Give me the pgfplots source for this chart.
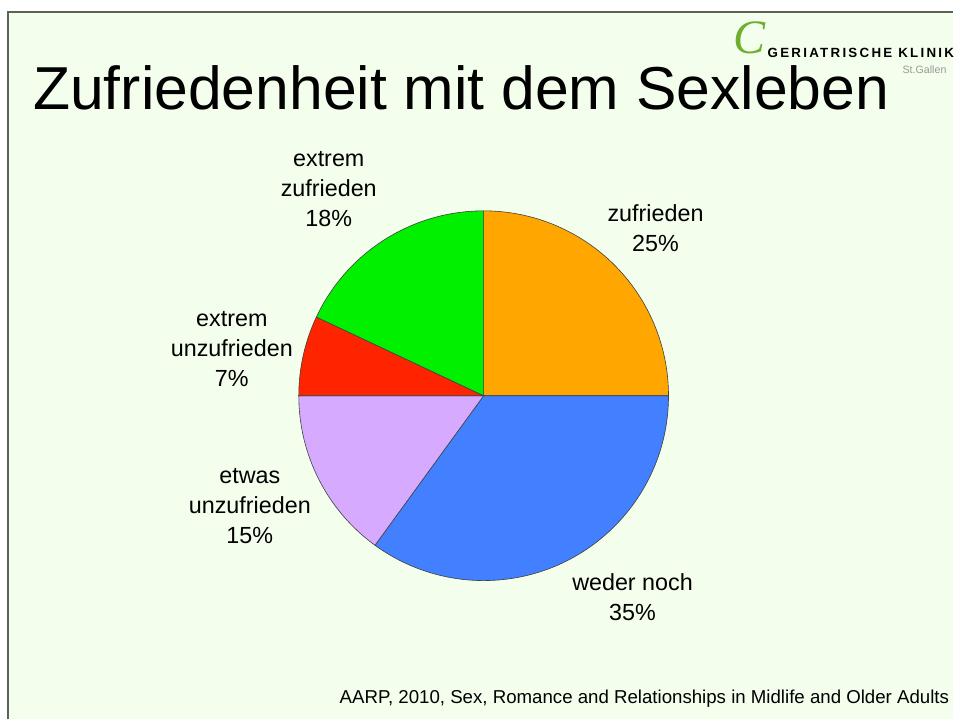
\documentclass[border=0pt]{standalone}
\usepackage{pgfplots}
\usepackage{pgfplotstable}
\usepackage{fontspec}
\setmainfont{Liberation Sans}
\newfontfamily\logoC{Liberation Serif}
\newfontfamily\logofont[LetterSpace=17]{Liberation Sans}
\pgfplotsset{compat=1.18}

\definecolor{bgcol}{RGB}{243,254,236}
\definecolor{framecol}{RGB}{90,100,85}
\definecolor{logogreen}{RGB}{110,175,45}
\definecolor{slice0}{RGB}{255,166,0}
\definecolor{slice1}{RGB}{66,128,255}
\definecolor{slice2}{RGB}{214,170,255}
\definecolor{slice3}{RGB}{255,36,0}
\definecolor{slice4}{RGB}{0,240,0}

% share in percent, label position (px from top left)
\pgfplotstableread[col sep=comma]{
name,pct,lx,ly
{zufrieden},25,656,228
{weder noch},35,633,598
{etwas\\unzufrieden},15,250,506
{extrem\\unzufrieden},7,232,349
{extrem\\zufrieden},18,329,189
}\piedata

\begin{document}
\begin{tikzpicture}
\begin{axis}[
    scale only axis,
    width=715.5pt, height=540pt,
    xmin=0, xmax=954, ymin=0, ymax=720,
    y dir=reverse,
    hide axis,
    clip=false,
]
% slide background and frame
\fill[white] (axis cs:0,0) rectangle (axis cs:954,720);
\fill[bgcol] (axis cs:8,12) rectangle (axis cs:954,720);
\draw[framecol, line width=0.9pt] (axis cs:8,720) -- (axis cs:8,12) -- (axis cs:954,12);

\pgfplotsextra{%
  \gdef\angA{90}%
  \pgfplotsforeachungrouped \i in {0,...,4}{%
    \pgfplotstablegetelem{\i}{pct}\of\piedata \let\pct\pgfplotsretval
    \pgfplotstablegetelem{\i}{name}\of\piedata \let\name\pgfplotsretval
    \pgfplotstablegetelem{\i}{lx}\of\piedata \let\lx\pgfplotsretval
    \pgfplotstablegetelem{\i}{ly}\of\piedata \let\ly\pgfplotsretval
    \pgfmathsetmacro{\angB}{\angA-3.6*\pct}%
    \filldraw[fill=slice\i, draw=black!75, line width=0.45pt]
      (axis cs:484,396) -- ++(\angA:138.75pt)
      arc[start angle=\angA, end angle=\angB, radius=138.75pt] -- cycle;
    \node[align=center, font=\fontsize{17.5}{22.5}\selectfont]
      at (axis cs:\lx,\ly) {\name\\\pct\%};
    \global\let\angA\angB
  }%
}

% title
\node[anchor=base west, font=\fontsize{45.5}{50}\selectfont, inner sep=0pt]
  at (axis cs:33,110) {Zufriedenheit mit dem Sexleben};

% logo
\node[anchor=east, text=logogreen, font=\logoC\itshape\fontsize{36}{36}\selectfont, inner sep=0pt]
  at (axis cs:766,38) {C};
\node[anchor=base west, font=\logofont\bfseries\fontsize{10}{11}\selectfont, inner sep=0pt]
  at (axis cs:768,58) {GERIATRISCHE KLINIK};
\node[anchor=base west, text=black!40, font=\fontsize{8}{9}\selectfont, inner sep=0pt]
  at (axis cs:903,74) {St.Gallen};

% source
\node[anchor=base east, font=\fontsize{14}{16}\selectfont, inner sep=0pt]
  at (axis cs:950,704) {AARP, 2010, Sex, Romance and Relationships in Midlife and Older Adults};
\end{axis}
\end{tikzpicture}
\end{document}
